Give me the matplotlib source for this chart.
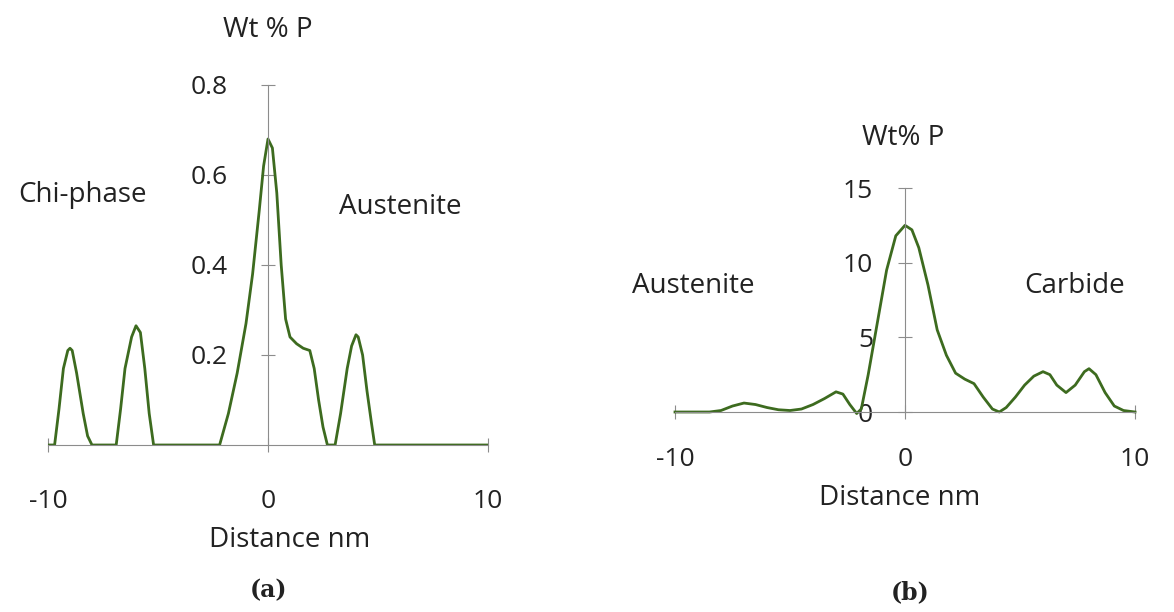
import matplotlib.pyplot as plt

# panel (a): Wt % P across chi-phase / austenite
dist_a = [-10, -9.7, -9.5, -9.3, -9.1, -9.0, -8.9, -8.7, -8.4, -8.2, -8.0,
          -6.9, -6.7, -6.5, -6.2, -6.0, -5.8, -5.6, -5.4, -5.2,
          -2.2, -1.8, -1.4, -1.0, -0.7, -0.4, -0.2, 0.0, 0.2, 0.4, 0.6, 0.8, 1.0,
          1.3, 1.6, 1.9, 2.1, 2.3, 2.5, 2.7,
          3.05, 3.3, 3.6, 3.8, 4.0, 4.1, 4.3, 4.5, 4.7, 4.85, 10]
wt_a = [0, 0, 0.08, 0.17, 0.21, 0.215, 0.21, 0.16, 0.07, 0.02, 0,
        0, 0.08, 0.17, 0.24, 0.265, 0.25, 0.17, 0.07, 0,
        0, 0.07, 0.16, 0.27, 0.38, 0.52, 0.62, 0.68, 0.66, 0.56, 0.4, 0.28, 0.24,
        0.225, 0.215, 0.21, 0.17, 0.1, 0.04, 0,
        0, 0.07, 0.17, 0.22, 0.245, 0.24, 0.2, 0.12, 0.05, 0, 0]

# panel (b): Wt% P across austenite / carbide
dist_b = [-10, -8.5, -8, -7.5, -7, -6.5, -6, -5.5, -5, -4.5, -4, -3.5, -3, -2.7,
          -2.4, -2.1, -1.9, -1.6, -1.2, -0.8, -0.4, 0, 0.3, 0.6, 1.0, 1.4, 1.8,
          2.2, 2.6, 3.0, 3.4, 3.8, 4.1, 4.4, 4.8, 5.2, 5.6, 6.0, 6.3, 6.6,
          7.0, 7.4, 7.8, 8.0, 8.3, 8.7, 9.1, 9.5, 10]
wt_b = [0, 0, 0.1, 0.4, 0.6, 0.5, 0.3, 0.15, 0.1, 0.2, 0.5, 0.9, 1.35, 1.2,
        0.5, -0.1, 0.2, 2.5, 6.0, 9.5, 11.8, 12.5, 12.2, 11.0, 8.5, 5.5, 3.8,
        2.6, 2.2, 1.9, 1.0, 0.2, 0.0, 0.3, 1.0, 1.8, 2.4, 2.7, 2.5, 1.8,
        1.3, 1.8, 2.7, 2.9, 2.5, 1.3, 0.4, 0.1, 0]

W, H = 1174, 612
plt.rcParams['font.family'] = ['Open Sans', 'DejaVu Sans']
plt.rcParams['axes.unicode_minus'] = False
fig = plt.figure(figsize=(W / 100, H / 100), dpi=100)
green = '#3d6b1f'
grey = '#8c8c8c'
txt = '#222222'

def fx(px):
    return px / W

def fy(py):
    return 1 - py / H

def style(ax, xpad, ypad):
    ax.spines['top'].set_visible(False)
    ax.spines['right'].set_visible(False)
    ax.spines['left'].set_position(('data', 0))
    ax.spines['bottom'].set_position(('data', 0))
    for s in ('left', 'bottom'):
        ax.spines[s].set_color(grey)
    ax.tick_params(axis='both', direction='inout', length=10, color=grey,
                   labelsize=19, labelcolor=txt)
    ax.tick_params(axis='x', pad=xpad)
    ax.tick_params(axis='y', pad=ypad)
    ax.patch.set_alpha(0)

# (a)
ax1 = fig.add_axes([fx(48), fy(445), fx(440), (445 - 85) / H])
ax1.plot(dist_a, wt_a, color=green, lw=2)
ax1.set_xlim(-10, 10)
ax1.set_ylim(0, 0.8)
ax1.set_xticks([-10, 0, 10])
ax1.set_yticks([0.2, 0.4, 0.6, 0.8])
ax1.set_yticklabels(['0.2', '0.4', '0.6', '0.8'])
style(ax1, 27, 24)

# (b)
ax2 = fig.add_axes([fx(675), fy(412), fx(460), (412 - 188) / H])
ax2.plot(dist_b, wt_b, color=green, lw=2, clip_on=False)
ax2.set_xlim(-10, 10)
ax2.set_ylim(0, 15)
ax2.set_xticks([-10, 0, 10])
ax2.set_yticks([0, 5, 10, 15])
style(ax2, 20, 18)

fs = 20
fig.text(fx(268), fy(30), 'Wt % P', fontsize=fs, ha='center', va='center', color=txt)
fig.text(fx(82), fy(195), 'Chi-phase', fontsize=fs, ha='center', va='center', color=txt)
fig.text(fx(400), fy(207), 'Austenite', fontsize=fs, ha='center', va='center', color=txt)
fig.text(fx(290), fy(540), 'Distance nm', fontsize=fs, ha='center', va='center', color=txt)
fig.text(fx(268), fy(590), '(a)', fontsize=17, ha='center', va='center',
         family='DejaVu Serif', weight='bold', color=txt)

fig.text(fx(903), fy(138), 'Wt% P', fontsize=fs, ha='center', va='center', color=txt)
fig.text(fx(693), fy(286), 'Austenite', fontsize=fs, ha='center', va='center', color=txt)
fig.text(fx(1075), fy(286), 'Carbide', fontsize=fs, ha='center', va='center', color=txt)
fig.text(fx(900), fy(498), 'Distance nm', fontsize=fs, ha='center', va='center', color=txt)
fig.text(fx(910), fy(592), '(b)', fontsize=17, ha='center', va='center',
         family='DejaVu Serif', weight='bold', color=txt)

fig.savefig('out.png', dpi=100)
